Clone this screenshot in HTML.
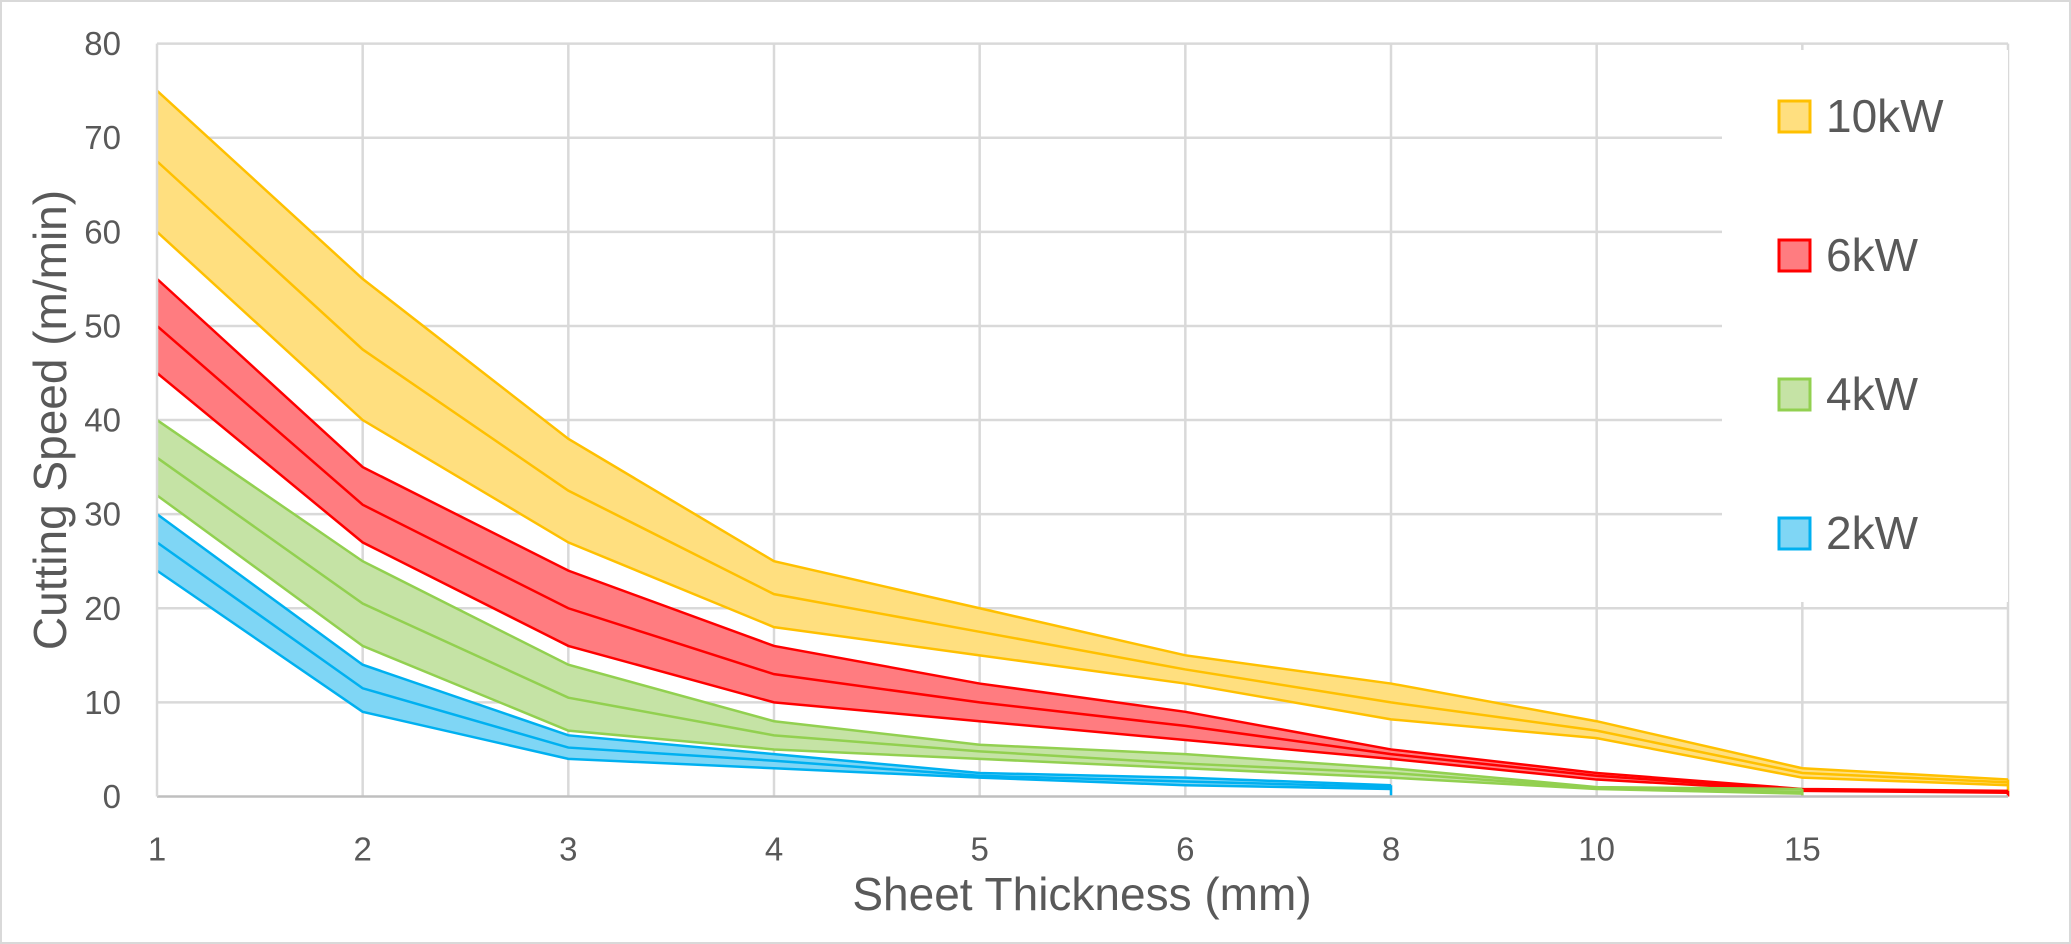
<!DOCTYPE html>
<html><head><meta charset="utf-8"><style>
html,body{margin:0;padding:0;background:#fff;}
svg{display:block;font-family:"Liberation Sans",sans-serif;}
</style></head><body>
<svg id="chart" width="2071" height="944" viewBox="0 0 2071 944">
<rect x="1" y="1" width="2069" height="942" fill="#fff" stroke="#d9d9d9" stroke-width="2"/>
<g id="grid"></g>
<g id="areas"></g>
<g id="axes"></g>
<rect x="1722" y="50" width="286" height="552" fill="#fff"/>
<g id="legend"></g>
<text x="50" y="420" transform="rotate(-90 50 420)" text-anchor="middle" dominant-baseline="central" font-size="46" fill="#595959">Cutting Speed (m/min)</text>
<text x="1082" y="894" text-anchor="middle" dominant-baseline="central" font-size="46" fill="#595959">Sheet Thickness (mm)</text>
</svg>
<script>
const categories = ["1","2","3","4","5","6","8","10","15",""];
const yTicks = [0,10,20,30,40,50,60,70,80];
const seriesNames = ["10kW","6kW","4kW","2kW"];
const upper10 = [75,55,38,25,20,15,12,8,3,1.8];
const mid10   = [67.5,47.5,32.5,21.5,17.5,13.5,10,7,2.5,1.5];
const lower10 = [60,40,27,18,15,12,8.2,6.2,2,1.2];
const upper6 = [55,35,24,16,12,9,5,2.5,0.8,0.6];
const mid6   = [50,31,20,13,10,7.5,4.5,2.2,0.7,0.5];
const lower6 = [45,27,16,10,8,6,4,1.8,0.6,0.4];
const upper4 = [40,25,14,8,5.5,4.5,3,1,0.8];
const mid4   = [36,20.5,10.5,6.5,4.8,3.5,2.5,0.9,0.5];
const lower4 = [32,16,7,5,4,3,2,0.8,0.3];
const upper2 = [30,14,6.5,4.5,2.5,2,1.2];
const mid2   = [27,11.5,5.2,3.8,2.2,1.6,1];
const lower2 = [24,9,4,3,2,1.2,0.8];

const NS="http://www.w3.org/2000/svg";
const L=157,R=2008,T=43.6,B=796.5,YMAX=80;
const xs=i=>L+i*(R-L)/(categories.length-1);
const ys=v=>B-v/YMAX*(B-T);
function mk(tag,attrs,parent){const e=document.createElementNS(NS,tag);for(const k in attrs)e.setAttribute(k,attrs[k]);parent.appendChild(e);return e;}
const grid=document.getElementById('grid'),axes=document.getElementById('axes'),areas=document.getElementById('areas'),legend=document.getElementById('legend');
yTicks.forEach(t=>{
  if(t>0){const g=mk('line',{x1:L,x2:R,y1:ys(t),y2:ys(t),stroke:'#d9d9d9','stroke-width':2.5},grid);
  
  }
  const tx=mk('text',{x:121,y:ys(t),'text-anchor':'end','dominant-baseline':'central','font-size':33,fill:'#595959'},axes);
  tx.textContent=t;
  
  
});
categories.forEach((c,i)=>{
  if(i>0){const g=mk('line',{x1:xs(i),x2:xs(i),y1:T,y2:B,stroke:'#d9d9d9','stroke-width':2.5},grid);
  
  }
  const tx=mk('text',{x:xs(i),y:849,'text-anchor':'middle','dominant-baseline':'central','font-size':33,fill:'#595959'},axes);
  tx.textContent=c;
  
  
});
const ax=mk('line',{x1:L,x2:R,y1:B,y2:B,stroke:'#bfbfbf','stroke-width':2.5},axes);


const ay=mk('line',{x1:L,x2:L,y1:T,y2:B,stroke:'#d9d9d9','stroke-width':2.5},axes);



const series=[
 {name:'10kW',u:upper10,m:mid10,l:lower10,fill:'#ffdf7f',stroke:'#ffc000'},
 {name:'6kW',u:upper6,m:mid6,l:lower6,fill:'#ff7c80',stroke:'#ff0000'},
 {name:'4kW',u:upper4,m:mid4,l:lower4,fill:'#c5e3a5',stroke:'#92d050'},
 {name:'2kW',u:upper2,m:mid2,l:lower2,fill:'#7fd6f5',stroke:'#00b0f0'}
];
const pts=a=>a.map((v,i)=>xs(i)+','+ys(v));
series.forEach((s,k)=>{
  const g=mk('g',{},areas);
  
  
  const poly=mk('polygon',{points:pts(s.u).concat(pts(s.l).reverse()).join(' '),fill:s.fill},g);
  
  
  [s.u,s.m,s.l].forEach((arr,j)=>{
    const p=mk('polyline',{points:pts(arr).join(' '),fill:'none',stroke:s.stroke,'stroke-width':2.5},g);
    
    
  });
  const n=s.u.length-1;
  const e=mk('line',{x1:xs(n),x2:xs(n),y1:ys(s.u[n]),y2:B,stroke:s.stroke,'stroke-width':2.5},g);
  
  
  const ly=116+k*139;
  const lg=mk('g',{},legend);
  
  
  mk('rect',{x:1779,y:ly-15,width:31,height:31,fill:s.fill,stroke:s.stroke,'stroke-width':3},lg);
  const t=mk('text',{x:1826,y:ly,'dominant-baseline':'central','font-size':46,fill:'#595959'},lg);
  t.textContent=s.name;
});
</script>
</body></html>
